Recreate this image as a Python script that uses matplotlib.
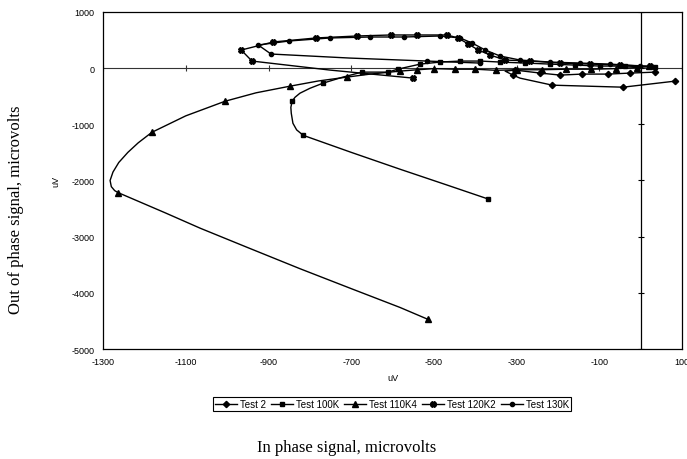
import matplotlib
matplotlib.use("Agg")
import matplotlib.pyplot as plt

plt.rcParams['axes.unicode_minus'] = False

# Test 2 (diamonds)
t2_x = [35, -26, -79, -142, -195, -243, -304, -328, -309, -292, -214, -43, 83]
t2_y = [-72, -89, -107, -107, -125, -89, -36, -54, -125, -179, -304, -340, -232]
t2_mark = [0, 1, 2, 3, 4, 5, 6, 8, 10, 11, 12]

# Test 100K (squares)
t100_x = [35, -38, -98, -159, -219, -280, -340, -388, -437, -485, -533, -587, -611,
          -674, -720, -768, -800, -824, -836, -843, -846, -845, -841, -832, -816,
          -700, -582, -469, -369]
t100_y = [18, 36, 36, 53, 71, 89, 107, 125, 125, 107, 71, -18, -72,
          -72, -160, -268, -360, -447, -520, -590, -700, -804, -982, -1100, -1197,
          -1500, -1800, -2080, -2330]
t100_mark = [0, 1, 2, 3, 4, 5, 6, 7, 8, 9, 10, 11, 12, 13, 15, 19, 24, 28]

# Test 110K4 (triangles)
t110_x = [20, -10, -60, -120, -180, -240, -300, -350, -400, -450, -500, -540, -582,
          -654, -710, -780, -848, -930, -1005, -1100, -1182, -1215, -1240, -1262,
          -1276, -1283, -1280, -1272, -1264, -1150, -1065, -950, -824, -700, -582, -515]
t110_y = [30, 10, -10, -20, -20, -30, -30, -40, -20, -20, -10, -30, -54,
          -107, -160, -230, -322, -440, -590, -850, -1143, -1330, -1500, -1680,
          -1850, -2000, -2110, -2180, -2215, -2575, -2850, -3195, -3570, -3925, -4260, -4470]
t110_mark = [0, 1, 2, 3, 4, 5, 6, 7, 8, 9, 10, 11, 12, 14, 16, 18, 20, 28, 35]

# Test 120K2 (crosses)
t120_x = [23, -50, -122, -195, -267, -328, -364, -393, -417, -442, -468, -541, -604,
          -686, -785, -889, -966, -940, -751, -550]
t120_y = [36, 53, 71, 89, 125, 143, 232, 321, 428, 536, 589, 589, 589,
          571, 536, 464, 321, 125, -36, -179]
t120_mark = [0, 1, 2, 3, 4, 5, 6, 7, 8, 9, 10, 11, 12, 13, 14, 15, 16, 17, 19]

# Test 130K (circles)
t130_x = [-2, -74, -147, -219, -292, -340, -376, -408, -437, -485, -572, -654, -751,
          -850, -925, -894, -703, -517, -388]
t130_y = [36, 71, 89, 107, 143, 214, 321, 446, 536, 571, 553, 553, 536,
          482, 411, 250, 178, 125, 89]
t130_mark = [0, 1, 2, 3, 4, 5, 6, 7, 8, 9, 10, 11, 12, 13, 14, 15, 17, 18]

x_ticks = list(range(-1300, 101, 200))
y_ticks = list(range(-5000, 1001, 1000))

fig = plt.figure(figsize=(6.87, 4.60), dpi=100)
ax = fig.add_axes([0.150, 0.239, 0.843, 0.733])

ax.axhline(0, color='#333333', lw=0.8, zorder=1)
ax.axvline(0, color='black', lw=0.9, zorder=1)
ax.plot(x_ticks, [0] * len(x_ticks), marker='|', color='#333333', ls='none', ms=5, mew=0.8)
ax.plot([0] * len(y_ticks), y_ticks, marker='_', color='black', ls='none', ms=5, mew=0.8)

kw = dict(color='black', lw=1.0, mfc='black', mec='black')
ax.plot(t2_x, t2_y, marker='D', ms=3.2, markevery=t2_mark, label='Test 2', **kw)
ax.plot(t100_x, t100_y, marker='s', ms=3.5, markevery=t100_mark, label='Test 100K', **kw)
ax.plot(t110_x, t110_y, marker='^', ms=3.8, markevery=t110_mark, label='Test 110K4', **kw)
ax.plot(t120_x, t120_y, marker='X', ms=4.2, markevery=t120_mark, label='Test 120K2', **kw)
ax.plot(t130_x, t130_y, marker='o', ms=3.0, markevery=t130_mark, label='Test 130K', **kw)

ax.set_xlim(-1300, 100)
ax.set_ylim(-5000, 1000)
ax.set_xticks(x_ticks)
ax.set_yticks(y_ticks)
ax.tick_params(length=0, labelsize=6.5, pad=6)
for lab in ax.get_xticklabels() + ax.get_yticklabels():
    lab.set_family('Liberation Sans')
for sp in ax.spines.values():
    sp.set_linewidth(0.9)
ax.set_xlabel('uV', fontsize=6.5, family='Liberation Sans', labelpad=5)
ax.set_ylabel('uV', fontsize=6.5, family='Liberation Sans', labelpad=8)

leg = fig.legend(loc='center', bbox_to_anchor=(392 / 687, 1 - 405 / 460), ncol=5,
                 prop={'family': 'Liberation Sans', 'size': 7},
                 handlelength=2.3, handletextpad=0.3, columnspacing=0.5,
                 borderpad=0.2, fancybox=False, edgecolor='black', framealpha=1)
leg.get_frame().set_linewidth(0.8)

fig.text(0.024, 1 - 210 / 460, 'Out of phase signal, microvolts', rotation=90,
         ha='center', va='center', fontsize=12, family='Liberation Serif')
fig.text(347 / 687, 1 - 448 / 460, 'In phase signal, microvolts',
         ha='center', va='center', fontsize=12, family='Liberation Serif')

fig.savefig('out.png', dpi=100)
